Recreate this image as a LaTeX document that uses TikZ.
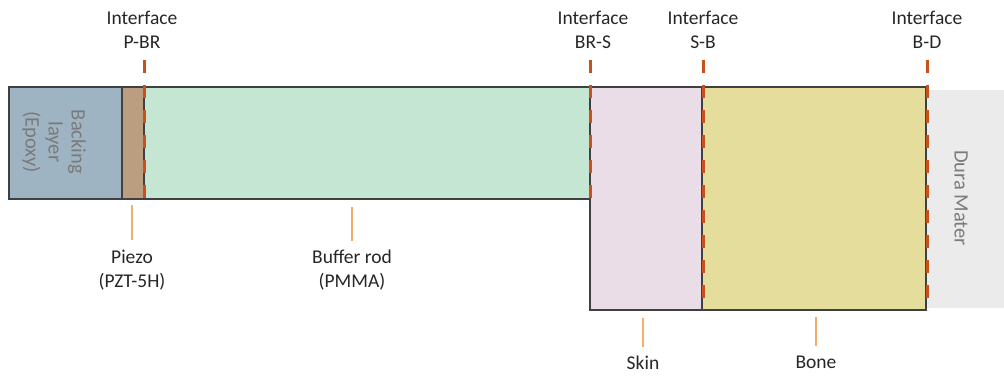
\documentclass[tikz,border=0pt]{standalone}
\usepackage{fontspec}
\setmainfont{Carlito}
\begin{document}
\begin{tikzpicture}[x=1pt,y=-1pt,
  layer/.style={draw=black!75,line width=1.2pt},
  iface/.style={draw=ifacec,line width=3pt,dash pattern=on 13pt off 12pt},
  lead/.style={draw=leadc,line width=1.2pt},
  lbl/.style={font=\fontsize{19.5}{23.5}\selectfont,align=center,text=black!85,inner sep=0pt},
  side/.style={font=\fontsize{20.5}{23}\selectfont,align=center,text=black!52,rotate=-90,inner sep=0pt}]
\definecolor{backc}{HTML}{9FB4C3}
\definecolor{piezoc}{HTML}{BB9E80}
\definecolor{bufc}{HTML}{C4E6D2}
\definecolor{skinc}{HTML}{EBDDE7}
\definecolor{bonec}{HTML}{E4DD9C}
\definecolor{durac}{HTML}{EBEBEB}
\definecolor{ifacec}{HTML}{C8501E}
\definecolor{leadc}{HTML}{F4AE6A}
\useasboundingbox (0,0) rectangle (1004,376);
% dura
\fill[durac] (927,90) rectangle (1004,308);
\node[side] (dura) at (961,198) {Dura Mater};
% layers
\draw[layer,fill=backc] (9,87) rectangle (122,199);
\draw[layer,fill=piezoc] (122,87) rectangle (144,199);
\draw[layer,fill=bufc] (144,87) rectangle (590,199);
\draw[layer,fill=skinc] (590,87) rectangle (702,310);
\draw[layer,fill=bonec] (702,87) rectangle (926,310);
\node[side] (back) at (54,142) {Backing\\layer\\(Epoxy)};
% interfaces
\node[lbl] (ipbr) at (142,30) {Interface\\P-BR};
\node[lbl] (ibrs) at (593,30) {Interface\\BR-S};
\node[lbl] (isb) at (703,30) {Interface\\S-B};
\node[lbl] (ibd) at (927,30) {Interface\\B-D};
\coordinate (pbrt) at (144,60); \coordinate (pbrb) at (144,199);
\coordinate (brst) at (590,60); \coordinate (brsb) at (590,207);
\coordinate (sbt) at (703,60); \coordinate (sbb) at (703,310);
\coordinate (bdt) at (927,60); \coordinate (bdb) at (927,310);
\draw[iface] (pbrt) -- (pbrb);
\draw[iface] (brst) -- (brsb);
\draw[iface] (sbt) -- (sbb);
\draw[iface] (bdt) -- (bdb);
% bottom labels
\node[lbl,anchor=north] (piezo) at (132,250) {Piezo\\(PZT-5H)};
\node[lbl,anchor=north] (buf) at (352,250) {Buffer rod\\(PMMA)};
\node[lbl,anchor=north] (skin) at (643,356) {Skin};
\node[lbl,anchor=north] (bone) at (816,356) {Bone};
\coordinate (piezot) at (132,205);
\coordinate (buft) at (352,207);
\coordinate (skint) at (643,318);
\coordinate (bonet) at (816,317);
\draw[lead] (piezot) -- ([yshift=10pt]piezo.north);
\draw[lead] (buft) -- ([yshift=9pt]buf.north);
\draw[lead] (skint) -- ([yshift=9pt]skin.north);
\draw[lead] (bonet) -- ([yshift=10pt]bone.north);
\end{tikzpicture}
\end{document}
